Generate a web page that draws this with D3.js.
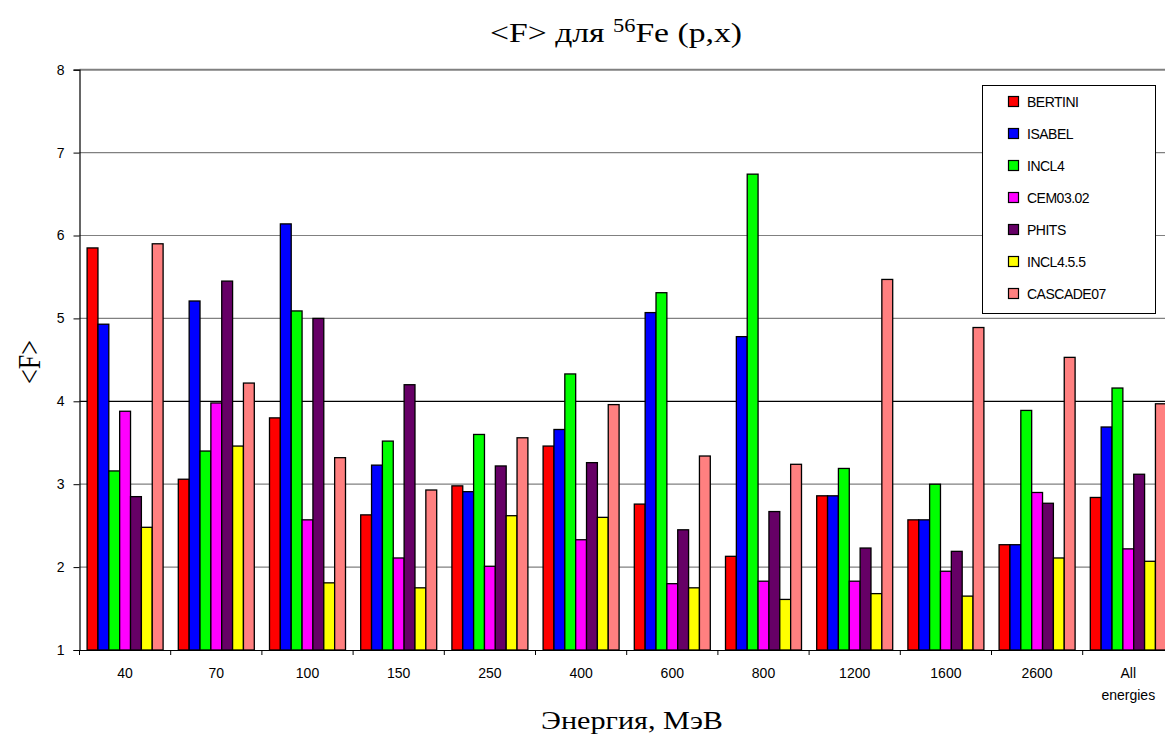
<!DOCTYPE html>
<html>
<head>
<meta charset="utf-8">
<script src="https://cdn.jsdelivr.net/npm/d3@7"></script>
<style>
  html, body { margin: 0; padding: 0; background: #fff; overflow: hidden; }
  svg { display: block; }
</style>
</head>
<body>
<svg id="chart" width="1165" height="738"></svg>
<script>
const categories = ["40", "70", "100", "150", "250", "400", "600", "800", "1200", "1600", "2600", "All energies"];
const seriesNames = ["BERTINI", "ISABEL", "INCL4", "CEM03.02", "PHITS", "INCL4.5.5", "CASCADE07"];
const seriesColors = ["#FF0000", "#0000FF", "#00FF00", "#FF00FF", "#660066", "#FFFF00", "#FF8080"];
const BERTINI   = [5.85, 3.06, 3.80, 2.63, 2.98, 3.46, 2.76, 2.13, 2.86, 2.57, 2.27, 2.84];
const ISABEL    = [4.93, 5.21, 6.14, 3.23, 2.91, 3.66, 5.07, 4.78, 2.86, 2.57, 2.27, 3.69];
const INCL4     = [3.16, 3.40, 5.09, 3.52, 3.60, 4.33, 5.31, 6.74, 3.19, 3.00, 3.89, 4.16];
const CEM0302   = [3.88, 3.98, 2.57, 2.11, 2.01, 2.33, 1.80, 1.83, 1.83, 1.95, 2.90, 2.22];
const PHITS     = [2.85, 5.45, 5.00, 4.20, 3.22, 3.26, 2.45, 2.67, 2.23, 2.19, 2.77, 3.12];
const INCL455   = [2.48, 3.46, 1.81, 1.75, 2.62, 2.60, 1.75, 1.61, 1.68, 1.65, 2.11, 2.07];
const CASCADE07 = [5.90, 4.22, 3.32, 2.93, 3.56, 3.96, 3.34, 3.24, 5.47, 4.89, 4.53, 3.97];
const seriesValues = [BERTINI, ISABEL, INCL4, CEM0302, PHITS, INCL455, CASCADE07];
const yTicks = [1, 2, 3, 4, 5, 6, 7, 8];

const svg = d3.select("#chart");
const plotLeft = 79.5, step = 91.2, plotTop = 69.7, plotBottom = 650;
const x0 = d3.scaleBand().domain(categories).range([plotLeft, plotLeft + step * categories.length]).padding(0);
const gap = 7.6;
const x1 = d3.scaleBand().domain(seriesNames).range([gap, x0.bandwidth() - gap]).padding(0);
const y = d3.scaleLinear().domain([1, 8]).range([plotBottom, plotTop]);

// grid lines
svg.append("g").selectAll("line").data(yTicks.filter(d => d > 1)).join("line")
  .attr("x1", plotLeft).attr("x2", 1165)
  .attr("y1", d => y(d)).attr("y2", d => y(d))
  .attr("stroke", d => d === 4 ? "#000" : "#808080")
  .attr("stroke-width", d => d === 8 ? 2 : 1.2);

// bars
const data = [];
categories.forEach((c, i) => seriesNames.forEach((s, j) => data.push({c, s, v: seriesValues[j][i], color: seriesColors[j]})));
svg.append("g").selectAll("rect").data(data).join("rect")
  .attr("x", d => x0(d.c) + x1(d.s))
  .attr("width", x1.bandwidth())
  .attr("y", d => y(d.v))
  .attr("height", d => y(1) - y(d.v))
  .attr("fill", d => d.color)
  .attr("stroke", "#000")
  .attr("stroke-width", 1.3);

// y axis
const yAxis = svg.append("g").attr("transform", `translate(${plotLeft},0)`)
  .call(d3.axisLeft(y).tickValues(yTicks).tickFormat(d3.format("d")).tickSize(6).tickPadding(9));
yAxis.select(".domain").attr("stroke", "#000").attr("stroke-width", 1.2);
yAxis.selectAll(".tick line").attr("stroke", "#000");
yAxis.selectAll("text").attr("font-family", "Liberation Sans, Arial, sans-serif").attr("font-size", 14).attr("fill", "#000");

// x axis
const xAxis = svg.append("g").attr("transform", `translate(0,${plotBottom})`)
  .call(d3.axisBottom(x0).tickSize(0).tickPadding(0).tickFormat(""));
xAxis.select(".domain").attr("stroke", "#000").attr("stroke-width", 1.2);
svg.append("g").selectAll("line").data(categories.concat(["end"])).join("line")
  .attr("x1", (d, i) => x0.range()[0] + i * x0.step())
  .attr("x2", (d, i) => x0.range()[0] + i * x0.step())
  .attr("y1", plotBottom).attr("y2", plotBottom + 5)
  .attr("stroke", "#000");
const xl = svg.append("g");
categories.forEach(c => {
  const t = xl.append("text")
    .attr("x", x0(c) + x0.bandwidth() / 2)
    .attr("y", 678)
    .attr("text-anchor", "middle")
    .attr("font-family", "Liberation Sans, Arial, sans-serif")
    .attr("font-size", 14)
    .attr("fill", "#000");
  const parts = c.split(" ");
  parts.forEach((p, k) => t.append("tspan").attr("x", x0(c) + x0.bandwidth() / 2).attr("dy", k === 0 ? 0 : 22).text(p));
});

// helper: stretch text horizontally to a target width
function stretchTo(sel, cx, cy, targetW) {
  const bb = sel.node().getBBox();
  const sx = targetW / bb.width;
  sel.attr("transform", `translate(${cx},${cy}) scale(${sx},1)`);
}

// titles
const title = svg.append("text")
  .attr("x", 0).attr("y", 0)
  .attr("text-anchor", "middle")
  .attr("font-family", "Liberation Serif, Times New Roman, serif")
  .attr("font-size", 27).attr("fill", "#000");
title.append("tspan").text("<F> для ");
title.append("tspan").attr("font-size", 18).attr("dy", -10).text("56");
title.append("tspan").attr("dy", 10).text("Fe (p,x)");
stretchTo(title, 616, 42, 252);

const xTitle = svg.append("text")
  .attr("x", 0).attr("y", 0)
  .attr("text-anchor", "middle")
  .attr("font-family", "Liberation Serif, Times New Roman, serif")
  .attr("font-size", 26).attr("fill", "#000")
  .text("Энергия, МэВ");
stretchTo(xTitle, 632, 729, 182);

const yTitle = svg.append("text")
  .attr("x", 0).attr("y", 0)
  .attr("text-anchor", "middle")
  .attr("font-family", "Liberation Serif, Times New Roman, serif")
  .attr("font-size", 26).attr("fill", "#000")
  .text("<F>");
yTitle.attr("transform", "translate(40,362) scale(1.2,1) rotate(-90)");

// legend
const lg = svg.append("g");
lg.append("rect").attr("x", 982.5).attr("y", 85.5).attr("width", 173).attr("height", 228)
  .attr("fill", "#fff").attr("stroke", "#000").attr("stroke-width", 1);
seriesNames.forEach((s, j) => {
  const cy = 101.5 + j * 32;
  lg.append("rect").attr("x", 1008.5).attr("y", cy - 5).attr("width", 10).attr("height", 10)
    .attr("fill", seriesColors[j]).attr("stroke", "#000").attr("stroke-width", 1.2);
  lg.append("text").attr("x", 1027).attr("y", cy + 5)
    .attr("font-family", "Liberation Sans, Arial, sans-serif")
    .attr("font-size", 14).attr("letter-spacing", -0.5).attr("fill", "#000").text(s);
});
</script>
</body>
</html>
